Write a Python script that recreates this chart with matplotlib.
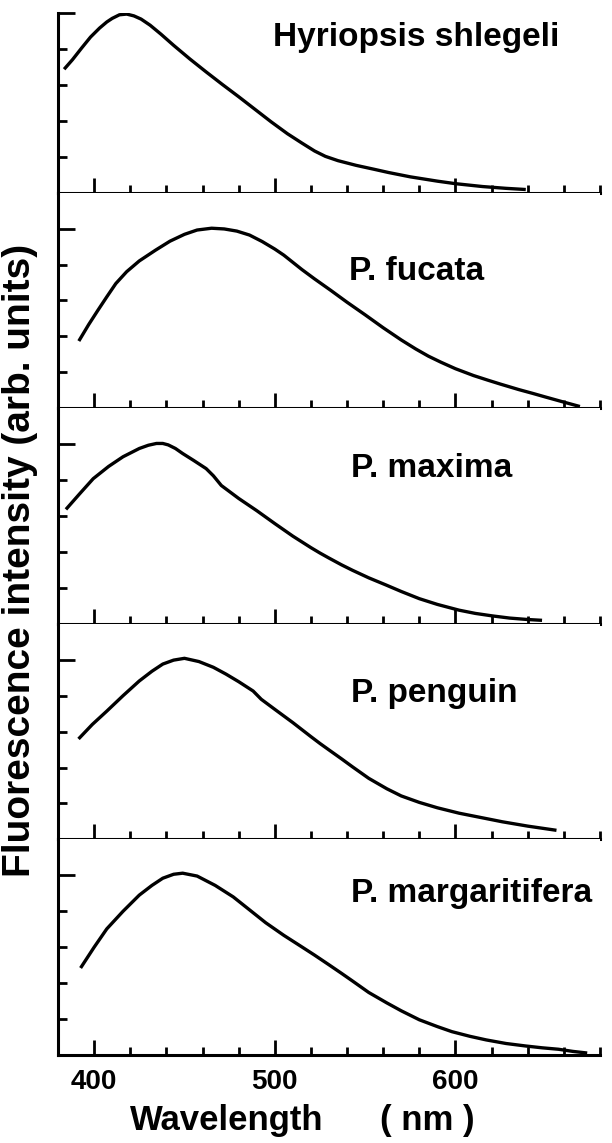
import numpy as np
import matplotlib
matplotlib.use("Agg")
import matplotlib.pyplot as plt
from matplotlib.ticker import FixedLocator

plt.rcParams['font.family'] = ['Liberation Sans', 'DejaVu Sans']
plt.rcParams['font.weight'] = 'bold'

# wavelength (nm) / intensity (arb. units)
hyr_x = [384, 388, 393, 398, 403, 407, 410, 414, 418, 422, 426, 431, 437, 444, 453, 462,
         471, 480, 489, 498, 507, 515, 522, 528, 535, 545, 555, 563, 575, 590, 600, 615,
         628, 638]
hyr_y = [3.47, 3.70, 4.02, 4.33, 4.58, 4.75, 4.85, 4.95, 4.97, 4.92, 4.83, 4.66, 4.41, 4.10,
         3.72, 3.36, 3.01, 2.67, 2.32, 1.97, 1.64, 1.38, 1.16, 1.01, 0.89, 0.76, 0.65, 0.56,
         0.44, 0.32, 0.25, 0.17, 0.12, 0.09]

fuc_x = [392, 397, 402, 407, 412, 418, 425, 434, 442, 450, 457, 465, 472, 479, 486, 493,
         500, 505, 509.5, 515, 522, 531, 540, 550, 560, 570, 578, 585, 592, 600, 610,
         618, 625, 635, 643, 650, 660, 668]
fuc_y = [1.91, 2.33, 2.72, 3.10, 3.47, 3.80, 4.10, 4.40, 4.65, 4.84, 4.96, 5.01, 4.99, 4.93,
         4.82, 4.64, 4.43, 4.26, 4.08, 3.86, 3.60, 3.28, 2.95, 2.60, 2.24, 1.90, 1.65,
         1.45, 1.28, 1.10, 0.91, 0.78, 0.67, 0.52, 0.41, 0.31, 0.17, 0.06]

max_x = [385, 392, 399.5, 408, 416, 425, 430, 434.5, 438, 441, 445, 449, 455, 462, 466,
         470.4, 480, 490, 500, 510, 520, 525, 530, 537, 543, 552, 561.6, 570, 580, 590, 602,
         611, 620.5, 630, 640, 647]
max_y = [3.22, 3.62, 4.04, 4.38, 4.65, 4.88, 4.97, 5.02, 5.02, 4.98, 4.88, 4.74, 4.55, 4.32,
         4.12, 3.85, 3.49, 3.15, 2.79, 2.44, 2.12, 1.97, 1.83, 1.64, 1.49, 1.28, 1.08, 0.90,
         0.70, 0.54, 0.38, 0.29, 0.22, 0.16, 0.12, 0.10]

pen_x = [392, 399, 407, 416, 425, 432, 438, 444, 450, 458, 466, 473, 480, 488, 492.5, 500,
         510, 520, 525, 530, 537, 543, 552, 562, 570, 580, 590, 602, 614, 626, 640, 655]
pen_y = [2.83, 3.20, 3.57, 4.00, 4.41, 4.68, 4.88, 4.99, 5.04, 4.95, 4.79, 4.60, 4.39, 4.13,
         3.90, 3.62, 3.25, 2.86, 2.67, 2.49, 2.24, 2.02, 1.70, 1.41, 1.21, 1.03, 0.88, 0.73,
         0.61, 0.49, 0.37, 0.26]

mar_x = [393, 400, 407, 416, 425, 432, 438, 444, 449, 457, 467, 477, 486, 495, 505, 514,
         522, 530, 537, 543, 552, 562, 570, 580, 590, 598, 608, 617, 628, 639, 648, 657,
         665, 672]
mar_y = [2.46, 3.00, 3.51, 4.00, 4.45, 4.72, 4.92, 5.03, 5.06, 4.98, 4.72, 4.40, 4.04, 3.68,
         3.33, 3.04, 2.78, 2.51, 2.27, 2.06, 1.74, 1.45, 1.23, 0.98, 0.79, 0.65, 0.52, 0.42,
         0.32, 0.25, 0.20, 0.16, 0.10, 0.06]

names = ['Hyriopsis shlegeli', 'P. fucata', 'P. maxima', 'P. penguin', 'P. margaritifera']
xs = [hyr_x, fuc_x, max_x, pen_x, mar_x]
ys = [hyr_y, fuc_y, max_y, pen_y, mar_y]
label_x = [499, 541, 542, 542, 542]
label_y = [4.08, 3.57, 4.10, 3.82, 4.26]
ytops = [5, 6, 6, 6, 6]

fig = plt.figure(figsize=(6.12, 11.43), dpi=100)
gs = fig.add_gridspec(5, 1, height_ratios=ytops, hspace=0,
                      left=58 / 612, right=600 / 612,
                      top=1 - 13 / 1143, bottom=1 - 1055 / 1143)

for i in range(5):
    ax = fig.add_subplot(gs[i])
    ax.plot(xs[i], ys[i], color='black', lw=2.4, solid_joinstyle='round')
    ax.set_xlim(380, 680)
    ax.set_ylim(0, ytops[i])
    ax.spines['top'].set_visible(False)
    ax.spines['right'].set_visible(False)
    for s in ['left', 'bottom']:
        ax.spines[s].set_linewidth(2.2)
    ax.xaxis.set_major_locator(FixedLocator([400, 500, 600]))
    ax.xaxis.set_minor_locator(FixedLocator(list(range(420, 681, 20))))
    ax.yaxis.set_major_locator(FixedLocator([5]))
    ax.yaxis.set_minor_locator(FixedLocator([1, 2, 3, 4]))
    ax.tick_params(axis='x', which='major', direction='in', length=10.5, width=2.0)
    ax.tick_params(axis='x', which='minor', direction='in', length=5.5, width=2.0)
    ax.tick_params(axis='y', which='major', direction='in', length=12, width=2.0)
    ax.tick_params(axis='y', which='minor', direction='in', length=6.5, width=2.0)
    ax.tick_params(labelleft=False, labelbottom=(i == 4))
    ax.text(label_x[i], label_y[i], names[i], fontsize=24, fontweight='bold',
            va='baseline', ha='left')
    if i == 4:
        ax.tick_params(axis='x', labelsize=20, pad=10)
        for t in ax.get_xticklabels():
            t.set_fontweight('bold')

fig.text(129.5 / 612, 1 - 1130 / 1143, 'Wavelength', fontsize=25, fontweight='bold',
         va='baseline', ha='left')
fig.text(379.6 / 612, 1 - 1130 / 1143, '( nm )', fontsize=25, fontweight='bold',
         va='baseline', ha='left')
fig.text(20 / 612, 1 - 560 / 1143, 'Fluorescence intensity (arb. units)', fontsize=28,
         fontweight='bold', rotation=90, va='center', ha='center')

fig.savefig('out.png', dpi=100)
